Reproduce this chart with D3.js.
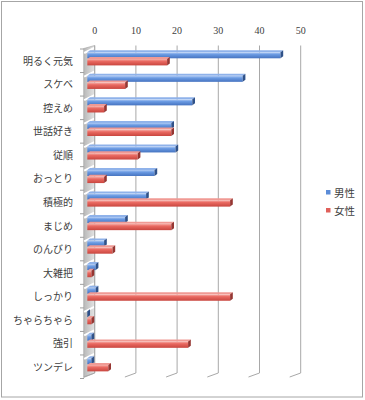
<!DOCTYPE html>
<html>
<head>
<meta charset="utf-8">
<script src="https://cdn.jsdelivr.net/npm/d3@7"></script>
<style>
body { margin: 0; background: #fff; }
text { fill: #404040; }
</style>
</head>
<body>
<div id="chart"></div>
<script>
const categories = ["明るく元気", "スケベ", "控えめ", "世話好き", "従順", "おっとり", "積極的", "まじめ", "のんびり", "大雑把", "しっかり", "ちゃらちゃら", "強引", "ツンデレ"];
const maleValues = [46, 37, 25, 20, 21, 16, 14, 9, 4, 2, 2, 0, 1, 1];
const femaleValues = [19, 9, 4, 20, 12, 4, 34, 20, 6, 1, 34, 1, 24, 5];
const seriesNames = ["男性", "女性"];
const tickValues = [0, 10, 20, 30, 40, 50];

const frame_width = 365;
const frame_height = 400;
// 3D offsets: back wall vs floor front
const depth = {dx: -11, dy: 4};
const cap = {dx: 2.7, dy: -2};

const svg = d3.select("#chart")
    .append("svg")
        .attr("width", frame_width)
        .attr("height", frame_height);

// outer border
svg.append("rect")
    .attr("x", 1.5).attr("y", 1.5)
    .attr("width", 361).attr("height", 395.5)
    .attr("fill", "#fff")
    .attr("stroke", "#a6a6a6");

// gradients for bars
const defs = svg.append("defs");
function makeGrad(id, stops) {
    const g = defs.append("linearGradient")
        .attr("id", id).attr("x1", 0).attr("y1", 0).attr("x2", 0).attr("y2", 1);
    stops.forEach(s => g.append("stop").attr("offset", s[0]).attr("stop-color", s[1]));
}
makeGrad("gBlue", [[0, "#b3cdf5"], [0.35, "#6b9be3"], [1, "#4573c0"]]);
makeGrad("gRed", [[0, "#f7b3ad"], [0.35, "#ea6a62"], [1, "#c9463f"]]);
const wall = defs.append("linearGradient")
    .attr("id", "gWall").attr("x1", 0).attr("y1", 0).attr("x2", 1).attr("y2", 0);
wall.append("stop").attr("offset", 0).attr("stop-color", "#b8b8b8");
wall.append("stop").attr("offset", 1).attr("stop-color", "#e4e4e4");

// scales: back wall (gridlines) and bar front face
const x_back = d3.scaleLinear().domain([0, 50]).range([94.7, 300.7]);
const x_front = d3.scaleLinear().domain([0, 50]).range([87.3, 297.3]);
const y_scale = d3.scaleBand().domain(categories).range([49, 378.5]);

const top_y = 45.5;
const bottom_y = 373;

// left wall (floor of the horizontal bar chart)
svg.append("path")
    .attr("d", `M${x_back(0)},${top_y} L${x_back(0) + depth.dx},${top_y + 3} L${x_back(0) + depth.dx},${bottom_y + depth.dy + 0.5} L${x_back(0)},${bottom_y} Z`)
    .attr("fill", "url(#gWall)")
    .attr("stroke", "#a0a0a0")
    .attr("stroke-width", 0.6);

// white stripes on wall at category boundaries
categories.forEach(c => {
    const b = y_scale(c);
    svg.append("line")
        .attr("x1", x_back(0) + depth.dx + 0.5).attr("y1", b + 4)
        .attr("x2", x_back(0) - 0.5).attr("y2", b - 1)
        .attr("stroke", "#fff")
        .attr("stroke-width", 2);
});

// gridlines on back wall with slanted floor edge
tickValues.forEach(t => {
    svg.append("path")
        .attr("d", `M${x_back(t)},${top_y} L${x_back(t)},${bottom_y} L${x_back(t) + depth.dx},${bottom_y + depth.dy}`)
        .attr("fill", "none")
        .attr("stroke", "#a8a8a8")
        .attr("stroke-width", 1);
});

// top axis labels
svg.append("g")
    .selectAll("text")
    .data(tickValues)
    .enter().append("text")
        .attr("x", d => x_back(d))
        .attr("y", 34)
        .attr("text-anchor", "middle")
        .attr("font-family", "Liberation Serif, DejaVu Serif, serif")
        .attr("font-size", "10px")
        .text(d => d);

// category ticks + labels
const ticks = y_scale.domain().map(c => y_scale(c)).concat([y_scale.range()[1]]);
ticks.forEach(b => {
    svg.append("line")
        .attr("x1", 80).attr("x2", 84)
        .attr("y1", b).attr("y2", b)
        .attr("stroke", "#a0a0a0");
});
svg.append("g")
    .selectAll("text")
    .data(categories)
    .enter().append("text")
        .attr("x", 73)
        .attr("y", d => y_scale(d) + y_scale.bandwidth() / 2 + 4)
        .attr("text-anchor", "end")
        .attr("font-family", "Noto Sans CJK JP, sans-serif")
        .attr("font-size", "10px")
        .text(d => d);

// bars
function drawBar(v, y, h, grad, capColor, topColor) {
    const x0 = x_front(0);
    const x1 = x_front(v);
    // top face
    svg.append("path")
        .attr("d", `M${x0},${y} L${x0 + cap.dx},${y + cap.dy} L${x1 + cap.dx},${y + cap.dy} L${x1},${y} Z`)
        .attr("fill", topColor);
    // front face
    svg.append("rect")
        .attr("x", x0).attr("y", y)
        .attr("width", x1 - x0).attr("height", h)
        .attr("fill", grad);
    // end cap
    svg.append("path")
        .attr("d", `M${x1},${y} L${x1 + cap.dx},${y + cap.dy} L${x1 + cap.dx},${y + h + cap.dy} L${x1},${y + h} Z`)
        .attr("fill", capColor);
}

categories.forEach((c, i) => {
    const b = y_scale(c);
    drawBar(maleValues[i], b + 3.3, 6, "url(#gBlue)", "#2f5189", "#8fb2ea");
    drawBar(femaleValues[i], b + 10, 6.4, "url(#gRed)", "#963632", "#f09a94");
});

// legend
const legendColors = ["#5b8cd8", "#e0605a"];
seriesNames.forEach((s, i) => {
    svg.append("rect")
        .attr("x", 326).attr("y", 190 + i * 18)
        .attr("width", 4.5).attr("height", 4.5)
        .attr("fill", legendColors[i]);
    svg.append("text")
        .attr("x", 334).attr("y", 196.5 + i * 18)
        .attr("font-family", "Noto Sans CJK JP, sans-serif")
        .attr("font-size", "10.5px")
        .text(s);
});
</script>
</body>
</html>
